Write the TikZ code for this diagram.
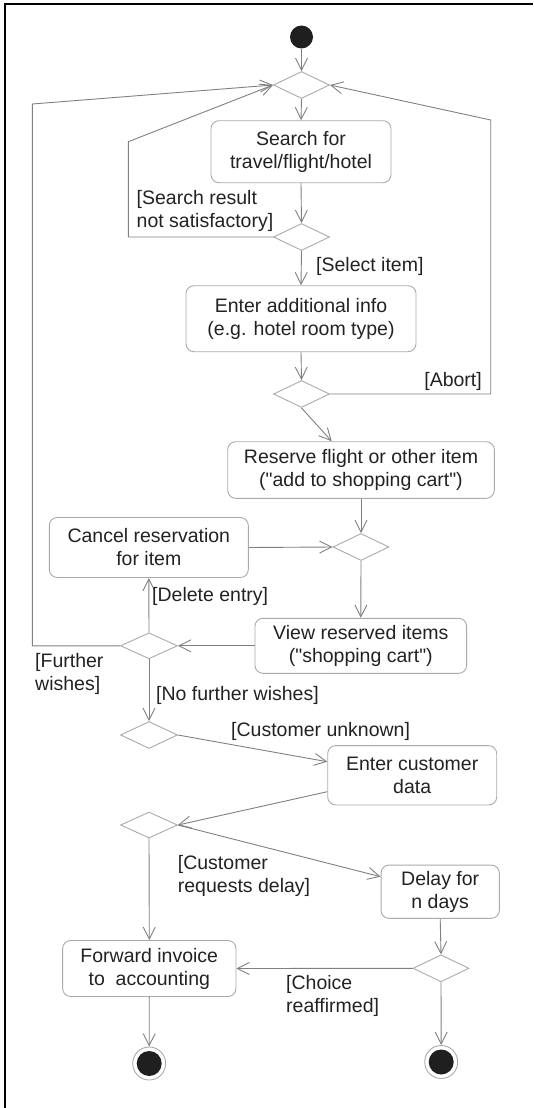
\documentclass[tikz,border=0pt]{standalone}
\usepackage{fontspec}
\setmainfont{Liberation Sans}
\usetikzlibrary{shapes.geometric,arrows.meta,calc}
\definecolor{txt}{HTML}{222222}
\definecolor{conn}{HTML}{808080}
\definecolor{boxc}{HTML}{AAAAAA}
\begin{document}
\begin{tikzpicture}[x=1pt,y=-1pt,
  font=\fontsize{19.5}{23}\selectfont, text=txt,
  act/.style={draw=boxc, line width=0.9pt, rounded corners=8pt, align=center, inner sep=0pt},
  dec/.style={draw=boxc, line width=0.9pt, diamond, inner sep=0pt, minimum width=56pt, minimum height=27pt},
  startnode/.style={circle, fill=black!88, draw=none, minimum size=23pt, inner sep=0pt},
  endnode/.style={circle, draw=boxc, line width=0.9pt, minimum size=33pt, inner sep=0pt,
     path picture={\fill[black!88] (path picture bounding box.center) circle[radius=12.5pt];}},
  flow/.style={draw=conn, line width=0.9pt, -{Straight Barb[length=12pt,width=12pt,line width=0.9pt]}},
  guard/.style={align=left, inner sep=0pt},
]
\useasboundingbox (0,0) rectangle (533,1108);
% partial frame
\draw[line width=2pt, black] (4.5,1108) -- (4.5,4.5) -- (533,4.5);

% nodes
\node[startnode] (start) at (301.5,37) {};
\node[dec] (d1) at (301.5,85) {};
\node[act, minimum width=180pt, minimum height=62pt] (search) at (301,151.7) {Search for\\travel/flight/hotel};
\node[dec] (d2) at (301.5,237) {};
\node[act, minimum width=230pt, minimum height=66pt] (info) at (301,318.7) {Enter additional info\\(e.g. hotel room type)};
\node[dec] (d3) at (301.5,394) {};
\node[act, minimum width=266.6pt, minimum height=56.6pt] (reserve) at (361,470) {Reserve flight or other item\\(\textquotedbl add to shopping cart\textquotedbl)};
\node[dec] (d4) at (361,547) {};
\node[act, minimum width=199pt, minimum height=60pt] (cancel) at (148.8,547.5) {Cancel reservation\\for item};
\node[act, minimum width=211.7pt, minimum height=55pt] (view) at (360.8,645.8) {View reserved items\\(\textquotedbl shopping cart\textquotedbl)};
\node[dec, minimum width=57pt, minimum height=26pt] (d5) at (149,645.8) {};
\node[dec, minimum width=57pt] (d6) at (149,735) {};
\node[act, minimum width=169pt, minimum height=59.3pt] (cust) at (412.2,775.3) {Enter customer\\data};
\node[dec, minimum width=57pt, minimum height=26pt] (d7) at (149,825) {};
\node[act, minimum width=118.3pt, minimum height=53.3pt] (delay) at (440.2,891.7) {Delay for\\n days};
\node[dec] (d8) at (441,968.3) {};
\node[act, minimum width=173.3pt, minimum height=56pt] (fwd) at (149.3,968.5) {Forward invoice\\to~~accounting};
\node[endnode] (end1) at (149.2,1063.5) {};
\node[endnode] (end2) at (441.2,1062) {};

% bend coordinates
\coordinate (l2a) at (128.3,237);
\coordinate (l2b) at (128.3,141.7);
\coordinate (r3a) at (490.7,394);
\coordinate (r3b) at (490.7,120);
\coordinate (l5a) at (32.3,645.8);
\coordinate (l5b) at (32.3,104);

% connectors
\draw[flow] (start) -- (d1.north);
\draw[flow] (d1.south) -- (search.north);
\draw[flow] (search.south) -- (d2.north);
\draw[flow] (d2.west) -- (l2a) -- (l2b) -- (d1.west);
\draw[flow] (d2.south) -- (info.north);
\draw[flow] (info.south) -- (d3.north);
\draw[flow] (d3.east) -- (r3a) -- (r3b) -- (d1.east);
\draw[flow] (d3.south) -- ([xshift=-29.3pt]reserve.north);
\draw[flow] (reserve.south) -- (d4.north);
\draw[flow] (cancel.east) -- (d4.west);
\draw[flow] (d4.south) -- (view.north);
\draw[flow] (view.west) -- (d5.east);
\draw[flow] (d5.north) -- (cancel.south);
\draw[flow] (d5.west) -- (l5a) -- (l5b) -- (d1.west);
\draw[flow] (d5.south) -- (d6.north);
\draw[flow] (d6.east) -- ([yshift=13.6pt]cust.west);
\draw[flow] ([yshift=-16.4pt]cust.west) -- (d7.east);
\draw[flow] (d7.south) -- (fwd.north);
\draw[flow] (d7.east) -- ([yshift=15pt]delay.west);
\draw[flow] (delay.south) -- (d8.north);
\draw[flow] (d8.west) -- (fwd.east);
\draw[flow] (fwd.south) -- (end1.north);
\draw[flow] (d8.south) -- (end2.north);

% guards
\node[guard, anchor=west] (g1) at (136.5,210.5) {[Search result\\not satisfactory]};
\node[guard, anchor=west] (g2) at (316,266) {[Select item]};
\node[guard, anchor=east] (g3) at (482,381.5) {[Abort]};
\node[guard, anchor=west] (g4) at (152,596.5) {[Delete entry]};
\node[guard, anchor=west] (g5) at (35,673.5) {[Further\\wishes]};
\node[guard, anchor=west] (g6) at (156,695) {[No further wishes]};
\node[guard, anchor=west] (g7) at (231,731.5) {[Customer unknown]};
\node[guard, anchor=west] (g8) at (177.7,875.5) {[Customer\\requests delay]};
\node[guard, anchor=west] (g9) at (286,996) {[Choice\\reaffirmed]};
\end{tikzpicture}
\end{document}
